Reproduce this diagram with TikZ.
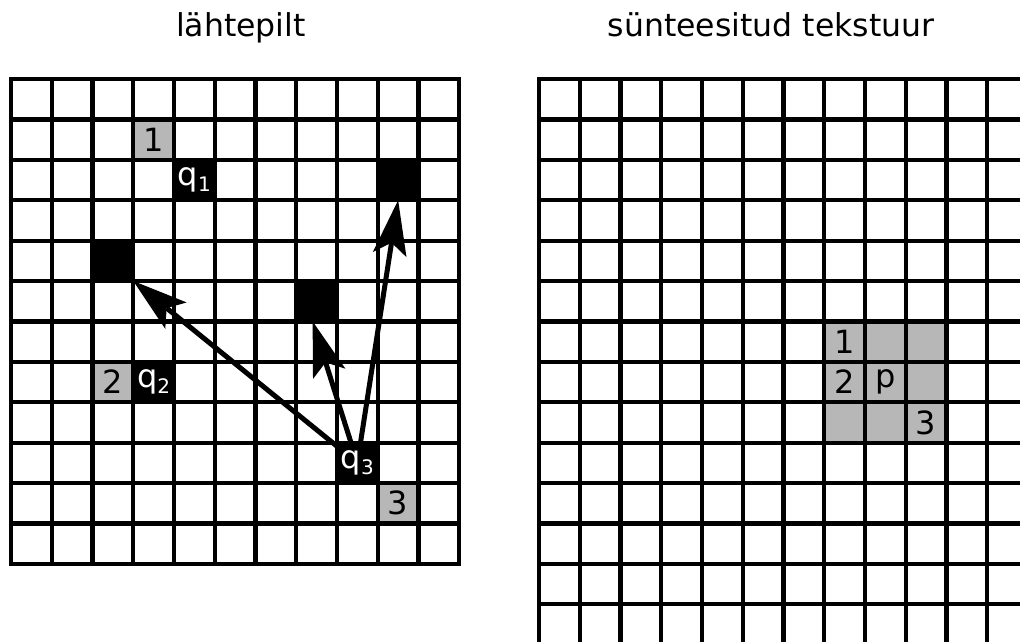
\documentclass[tikz,border=0pt]{standalone}
\usepackage{fontspec}
\setmainfont{DejaVu Sans}
\usetikzlibrary{arrows.meta,calc}
\definecolor{cellgray}{RGB}{183,183,183}
\pgfdeclarelayer{bg}
\pgfsetlayers{bg,main}
\tikzset{
  cellbox/.style={minimum width=40.75pt, minimum height=40.4pt, inner sep=0pt, outer sep=0pt, font=\fontsize{32}{32}\selectfont},
  blackcell/.style={cellbox, fill=black, text=white},
  graycell/.style={cellbox, fill=cellgray, text=black},
  gridline/.style={line width=4.2pt, line cap=rect},
  jump/.style={line width=5pt, -{Stealth[length=55pt,width=34pt,inset=12pt,line width=0pt]}},
  title/.style={font=\fontsize{31.5}{31.5}\selectfont, anchor=base, inner sep=0pt}
}
\newcommand{\qsub}[1]{q\raisebox{-6pt}{\fontsize{20}{20}\selectfont #1}}
\begin{document}
\begin{tikzpicture}[x=1pt,y=-1pt]
\useasboundingbox (0,0) rectangle (1020,642);
\clip (0,0) rectangle (1020,642);
% titles
\node[title] (t1) at (241,36.7) {lähtepilt};
\node[title] (t2) at (771,36.7) {sünteesitud tekstuur};
% left grid cells
\node[graycell]  (g1) at (153.625,139.6) {1};
\node[blackcell] (q1) at (194.375,180) {\qsub{1}};
\node[blackcell] (b9) at (398.125,180) {};
\node[blackcell] (b2) at (112.875,260.8) {};
\node[blackcell] (b7) at (316.625,301.2) {};
\node[graycell]  (g2) at (112.875,382) {2};
\node[blackcell] (q2) at (153.625,382) {\qsub{2}};
\node[blackcell] (q3) at (357.375,462.8) {\qsub{3}};
\node[graycell]  (g3) at (398.125,503.2) {3};
% right grid cells
\node[graycell] (r1)  at (844.625,341.6) {1};
\node[graycell] (r12) at (885.375,341.6) {};
\node[graycell] (r13) at (926.125,341.6) {};
\node[graycell] (r2)  at (844.625,382.0) {2};
\node[graycell] (p)   at (885.375,382.0) {p};
\node[graycell] (r23) at (926.125,382.0) {};
\node[graycell] (r31) at (844.625,422.4) {};
\node[graycell] (r32) at (885.375,422.4) {};
\node[graycell] (r3)  at (926.125,422.4) {3};
% left grid lines
\foreach \k in {0,...,11} \draw[gridline] ({11+40.75*\k},79) -- ({11+40.75*\k},563.8);
\foreach \k in {0,...,12} \draw[gridline] (11,{79+40.4*\k}) -- (459.25,{79+40.4*\k});
% right grid lines
\foreach \k in {0,...,12} \draw[gridline] ({539+40.75*\k},79) -- ({539+40.75*\k},700);
\foreach \k in {0,...,14} \draw[gridline] (539,{79+40.4*\k}) -- (1100,{79+40.4*\k});
% background and arrows (behind the cells)
\begin{pgfonlayer}{bg}
\fill[white] (0,0) rectangle (1020,642);
\draw[jump] (q3.center) -- (b2.south east);
\draw[jump] (q3.center) -- ($(b7.south)+(-4,0)$);
\draw[jump] (q3.center) -- (b9.south);
\end{pgfonlayer}
\end{tikzpicture}
\end{document}
